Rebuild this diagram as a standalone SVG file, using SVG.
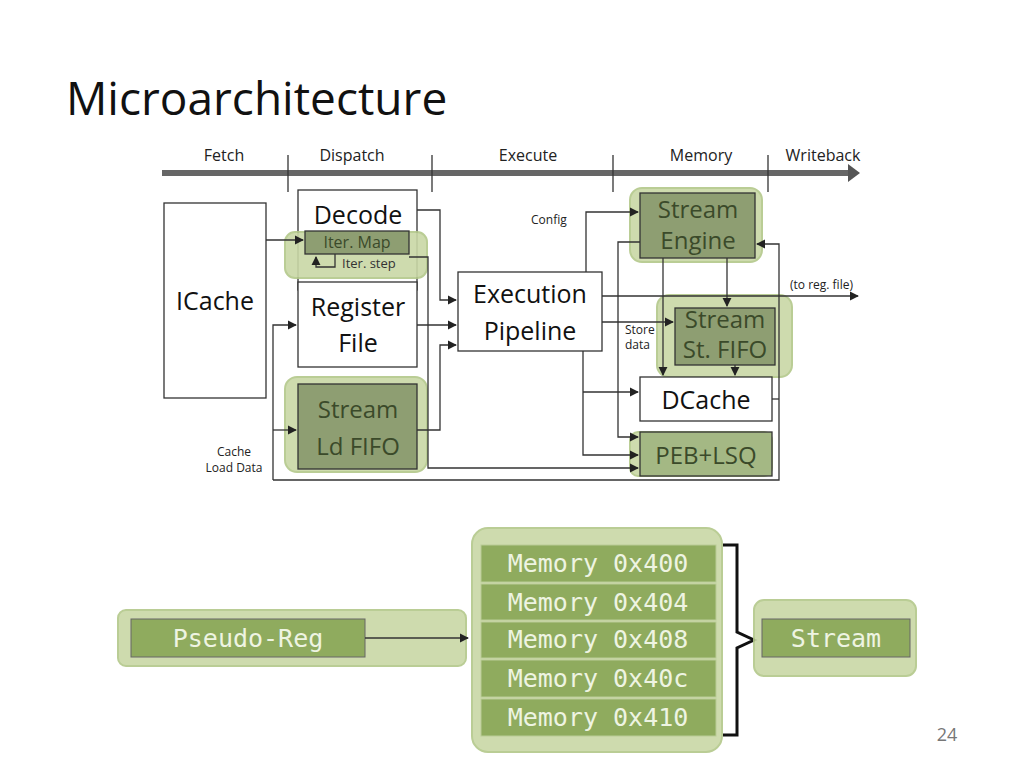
<svg xmlns="http://www.w3.org/2000/svg" width="1024" height="768" viewBox="0 0 1024 768">
<style>
text{font-family:"Open Sans","Liberation Sans",sans-serif}
.box{fill:#fff;stroke:#333;stroke-width:1.3}
.hl{fill:#c9d8a6;stroke:#b3c88a;stroke-width:2;opacity:0.9}
.dk{fill:#8e9e72;stroke:#333;stroke-width:1.3}
.w{stroke:#333;stroke-width:1.3;fill:none}
.big{font-size:25px;text-anchor:middle;fill:#111}
.dkt{font-size:24px;text-anchor:middle;fill:#3b4a2a}
.sm{font-size:12px;fill:#222}
.mono{font-family:"DejaVu Sans Mono","Liberation Mono",monospace;font-size:25px;fill:#eef4e2;text-anchor:middle}
.row{fill:#8fab5e;stroke:#b9cc96;stroke-width:1}
</style>
<defs>
<marker id="a" viewBox="0 0 10 10" refX="9" refY="5" markerWidth="7" markerHeight="7" orient="auto"><path d="M0,0L10,5L0,10z" fill="#222"/></marker>
</defs>
<text x="66" y="115" font-size="46" fill="#111">Microarchitecture</text>
<g id="timeline">
<line x1="162" y1="173" x2="850" y2="173" stroke="#666" stroke-width="6"/>
<path d="M848,164L860,173L848,182z" fill="#555"/>
<g stroke="#333" stroke-width="1.3"><line x1="288" y1="155" x2="288" y2="192"/><line x1="432" y1="155" x2="432" y2="192"/><line x1="613" y1="155" x2="613" y2="192"/><line x1="768" y1="155" x2="768" y2="192"/></g>
<g font-size="16" fill="#222" text-anchor="middle"><text x="224" y="161">Fetch</text><text x="352" y="161">Dispatch</text><text x="528" y="161">Execute</text><text x="701" y="161">Memory</text><text x="823" y="161">Writeback</text></g>
</g>
<g id="icache"><rect class="box" x="164" y="203" width="102" height="195"/><text class="big" x="215" y="310">ICache</text></g>
<g id="decode"><rect class="box" x="298" y="190" width="119" height="100"/><text class="big" x="358" y="224">Decode</text>
<rect class="hl" x="285" y="232" width="142" height="46" rx="10"/>
<rect class="dk" x="305" y="231" width="104" height="23"/><text x="357" y="248" font-size="16" text-anchor="middle" fill="#3b4a2a">Iter. Map</text>
<path class="w" d="M335,254V267H316V257" marker-end="url(#a)"/>
<text x="342" y="268" font-size="13" fill="#333">Iter. step</text></g>
<g id="regfile"><rect class="box" x="298" y="282" width="119" height="85"/><text class="big" x="358" y="316">Register</text><text class="big" x="358" y="352">File</text></g>
<g id="ldfifo"><rect class="hl" x="285" y="377" width="142" height="95" rx="12"/><rect class="dk" x="298" y="384" width="119" height="85"/><text class="dkt" x="358" y="418">Stream</text><text class="dkt" x="358" y="455">Ld FIFO</text></g>
<g id="exec"><rect class="box" x="458" y="272" width="144" height="79"/><text class="big" x="530" y="303">Execution</text><text class="big" x="530" y="340">Pipeline</text></g>
<g id="sengine"><rect class="hl" x="630" y="188" width="132" height="74" rx="12"/><rect class="dk" x="640" y="193" width="115" height="65"/><text class="dkt" x="698" y="218">Stream</text><text class="dkt" x="698" y="249">Engine</text></g>
<g id="stfifo"><rect class="hl" x="657" y="295" width="135" height="82" rx="12"/><rect class="dk" x="675" y="308" width="100" height="57"/><text class="dkt" x="725" y="328" font-size="21">Stream</text><text class="dkt" x="725" y="358" font-size="21">St. FIFO</text></g>
<g id="dcache"><rect class="box" x="640" y="377" width="132" height="44"/><text class="big" x="706" y="409">DCache</text></g>
<g id="peb"><rect class="hl" x="630" y="432" width="142" height="44" rx="8"/><rect class="dk" x="640" y="432" width="132" height="44" style="fill:#a4b884"/><text class="dkt" x="706" y="464">PEB+LSQ</text></g>
<g id="connectors">
<path class="w" d="M266,240H303" marker-end="url(#a)"/>
<path class="w" d="M417,210H440V300H456" marker-end="url(#a)"/>
<path class="w" d="M417,325H456" marker-end="url(#a)"/>
<path class="w" d="M417,430H440V345H456" marker-end="url(#a)"/>
<path class="w" d="M409,257H428V468H638" marker-end="url(#a)"/>
<path class="w" d="M273,480V325H296" marker-end="url(#a)"/>
<path class="w" d="M273,430H296" marker-end="url(#a)"/>
<path class="w" d="M273,480H779V244H757" marker-end="url(#a)"/>
<path class="w" d="M772,399H779"/>
<path class="w" d="M586,272V212H638" marker-end="url(#a)"/>
<path class="w" d="M602,296H858" marker-end="url(#a)"/>
<path class="w" d="M602,322H673" marker-end="url(#a)"/>
<path class="w" d="M583,351V455H638" marker-end="url(#a)"/>
<path class="w" d="M583,392H638" marker-end="url(#a)"/>
<path class="w" d="M640,242H618V437H638" marker-end="url(#a)"/>
<path class="w" d="M663,258V375" marker-end="url(#a)"/>
<path class="w" d="M727,258V306" marker-end="url(#a)"/>
<path class="w" d="M735,365V375" marker-end="url(#a)"/>
</g>
<text class="sm" x="531" y="224" font-size="15">Config</text>
<text class="sm" x="790" y="289">(to reg. file)</text>
<text class="sm" x="625" y="334">Store</text><text class="sm" x="625" y="349">data</text>
<text class="sm" x="234" y="456" text-anchor="middle">Cache</text><text class="sm" x="234" y="472" text-anchor="middle">Load Data</text>
<g id="pseudoreg"><rect class="hl" x="118" y="610" width="348" height="56" rx="8"/><rect class="row" x="131" y="619" width="234" height="38" style="stroke:#666"/><text class="mono" x="248" y="647">Pseudo-Reg</text></g>
<path id="arrow2" class="w" d="M365,638H468" marker-end="url(#a)"/>
<g id="memory"><rect class="hl" x="472" y="528" width="250" height="224" rx="16"/>
<rect class="row" x="481" y="545" width="235" height="37"/><text class="mono" x="598" y="572">Memory 0x400</text>
<rect class="row" x="481" y="584" width="235" height="36"/><text class="mono" x="598" y="611">Memory 0x404</text>
<rect class="row" x="481" y="622" width="235" height="36"/><text class="mono" x="598" y="648">Memory 0x408</text>
<rect class="row" x="481" y="660" width="235" height="37"/><text class="mono" x="598" y="687">Memory 0x40c</text>
<rect class="row" x="481" y="699" width="235" height="37"/><text class="mono" x="598" y="726">Memory 0x410</text></g>
<path id="bracket" d="M723,545H737V632L754,640L737,648V735H723" fill="none" stroke="#111" stroke-width="3"/>
<g id="stream"><rect class="hl" x="754" y="600" width="162" height="76" rx="10"/><rect class="row" x="762" y="619" width="148" height="38" style="stroke:#666"/><text class="mono" x="836" y="647">Stream</text></g>
<text x="947" y="741" font-size="18" fill="#777" text-anchor="middle">24</text>
</svg>
